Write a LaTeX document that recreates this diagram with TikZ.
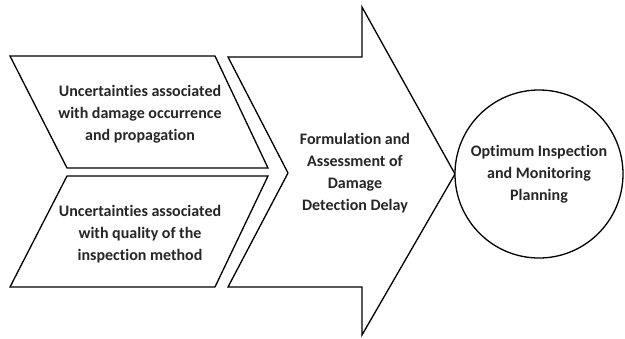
\documentclass[tikz,border=0pt]{standalone}
\usepackage{fontspec}
\setmainfont{Carlito}[Ligatures=NoCommon]
\begin{document}
\begin{tikzpicture}[x=1pt,y=-1pt,
  shapeline/.style={draw=black,line width=1.3pt,line join=miter,fill=white},
  lbl/.style={align=center,font=\bfseries\fontsize{16}{22}\selectfont,text=black!85,inner sep=0pt}]
\useasboundingbox[fill=white] (0,0) rectangle (625,338);
% top parallelogram
\draw[shapeline] (10,56) -- (215,56) -- (268,168) -- (67,168) -- cycle;
% bottom parallelogram
\draw[shapeline] (67,176) -- (268,176) -- (215,287) -- (10,287) -- cycle;
% big arrow
\draw[shapeline] (228,57) -- (362,57) -- (362,7) -- (455,174) -- (362,335) -- (362,287) -- (228,287) -- (288,173) -- cycle;
% circle
\node[shapeline,circle,minimum size=168pt,inner sep=0pt] (goal) at (539,174) {};
\node[lbl] (u1) at (140,114) {Uncertainties associated\\with damage occurrence\\and propagation};
\node[lbl] (u2) at (140,234) {Uncertainties associated\\with quality of the\\inspection method};
\node[lbl] (form) at (355,173) {Formulation and\\Assessment of\\Damage\\Detection Delay};
\node[lbl] at (goal.center) {Optimum Inspection\\and Monitoring\\Planning};
\end{tikzpicture}
\end{document}
